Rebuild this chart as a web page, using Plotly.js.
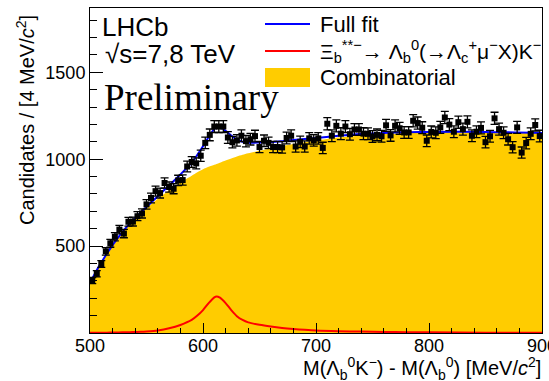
<!DOCTYPE html>
<html>
<head>
<meta charset="utf-8">
<script src="https://cdn.plot.ly/plotly-3.0.1.min.js"></script>
<style>html,body{margin:0;padding:0;background:#fff}#chart{width:549px;height:381px}</style>
</head>
<body>
<div id="chart"></div>
<script>
// Bin centres (4 MeV bins) in M(Lb K) - M(Lb) [MeV/c^2]
const binCenters = [502,506,510,514,518,522,526,530,534,538,
542,546,550,554,558,562,566,570,574,578,
582,586,590,594,598,602,606,610,614,618,
622,626,630,634,638,642,646,650,654,658,
662,666,670,674,678,682,686,690,694,698,
702,706,710,714,718,722,726,730,734,738,
742,746,750,754,758,762,766,770,774,778,
782,786,790,794,798,802,806,810,814,818,
822,826,830,834,838,842,846,850,854,858,
862,866,870,874,878,882,886,890,894,898];
// Candidates per bin
const counts = [302,341,397,470,516,554,595,572,640,641,
672,688,740,777,816,805,863,840,830,878,
880,958,984,976,1020,1094,1140,1188,1188,1188,
1125,1098,1108,1135,1104,1115,1133,1070,1106,1094,
1070,1070,1068,1122,1135,1073,1100,1073,1120,1108,
1120,1065,1204,1135,1192,1147,1188,1144,1171,1171,
1147,1146,1131,1140,1132,1195,1137,1192,1178,1154,
1154,1221,1208,1181,1106,1157,1152,1183,1240,1199,
1158,1213,1173,1215,1135,1158,1180,1098,1132,1235,
1173,1152,1115,1069,1183,1038,1093,1146,1197,1133];
// Fit curves sampled at these masses
const curveMass = [500,505,510,515,520,525,530,535,540,545,550,560,570,580,590,595,600,605,610,612,615,620,625,630,635,640,650,660,670,680,690,700,720,740,760,780,800,850,900];
const combinatorial = [287,349,403,455,503,547,588,623,656,687,716,772,822,866,905,925,942,956,968,973,980,992,1004,1015,1025,1034,1049,1062,1075,1087,1098,1108,1125,1137,1145,1150,1153,1155,1150];
const signal = [1,1,2,2,3,3,4,5,6,7,9,15,27,46,75,100,132,172,205,210,203,172,132,97,75,61,47,37,29,23,18,14,10,8,6,5,4,2,1];
const fullFit = [288,350,405,457,506,550,592,628,662,694,725,787,849,912,980,1025,1074,1128,1173,1183,1183,1164,1136,1112,1100,1095,1096,1099,1104,1110,1116,1122,1135,1145,1151,1155,1157,1157,1151];
const xTicks = [500,600,700,800,900];
const yTicks = [500,1000,1500];

const poissonErr = counts.map(v => Math.sqrt(v));

// layout geometry helpers (pixel -> paper)
const L = 90, R = 7, T = 8, B = 48, W = 549, H = 381;
const pw = W - L - R, ph = H - T - B;
const px = x => (x - L) / pw;
const py = y => (H - B - y) / ph;

const SANS = 'Liberation Sans, Arial, sans-serif';

const traces = [
  {x: curveMass, y: combinatorial, type: 'scatter', mode: 'lines', fill: 'tozeroy',
   fillcolor: '#ffcc00', line: {color: '#ffcc00', width: 0, shape: 'spline', smoothing: 0.8},
   name: 'Combinatorial', hoverinfo: 'skip'},
  {x: curveMass, y: signal, type: 'scatter', mode: 'lines',
   line: {color: '#ff0000', width: 2, shape: 'spline', smoothing: 0.8}, name: 'signal'},
  {x: curveMass, y: fullFit, type: 'scatter', mode: 'lines',
   line: {color: '#0000ff', width: 2, shape: 'spline', smoothing: 0.8}, name: 'Full fit'},
  {x: binCenters, y: counts, type: 'scatter', mode: 'markers',
   marker: {symbol: 'square', size: 6, color: '#000'},
   error_y: {type: 'data', array: poissonErr, visible: true, color: '#000', thickness: 1.3, width: 4},
   name: 'Data'}
];

const layout = {
  width: W, height: H,
  margin: {l: L, r: R, t: T, b: B, pad: 0},
  paper_bgcolor: '#fff', plot_bgcolor: '#fff',
  showlegend: false,
  font: {family: SANS, color: '#000', size: 18},
  xaxis: {range: [500, 900], tickmode: 'array', tickvals: xTicks, ticks: 'inside', ticklen: 10,
    tickwidth: 1, tickcolor: '#000', showline: true, linecolor: '#000', linewidth: 1, mirror: true,
    showgrid: false, zeroline: false, tickfont: {size: 18, family: SANS},
    ticklabeloverflow: 'allow', ticklabelstandoff: -4,
    minor: {tickmode: 'linear', tick0: 500, dtick: 20, ticks: 'inside', ticklen: 5, tickcolor: '#000', showgrid: false}},
  yaxis: {range: [0, 1870], tickmode: 'array', tickvals: yTicks, ticks: 'inside', ticklen: 13,
    tickwidth: 1, tickcolor: '#000', showline: true, linecolor: '#000', linewidth: 1, mirror: true,
    showgrid: false, zeroline: false, tickfont: {size: 18, family: SANS},
    minor: {tickmode: 'linear', tick0: 0, dtick: 100, ticks: 'inside', ticklen: 7, tickcolor: '#000', showgrid: false}},
  shapes: [
    {type: 'line', xref: 'paper', yref: 'paper', x0: px(265), x1: px(310), y0: py(24), y1: py(24), line: {color: '#0000ff', width: 2}},
    {type: 'line', xref: 'paper', yref: 'paper', x0: px(265), x1: px(310), y0: py(51), y1: py(51), line: {color: '#ff0000', width: 2}},
    {type: 'rect', xref: 'paper', yref: 'paper', x0: px(265), x1: px(310), y0: py(68), y1: py(87), fillcolor: '#ffcc00', line: {width: 0}}
  ],
  annotations: [
    {text: 'LHCb', xref: 'paper', yref: 'paper', x: px(100), y: py(27), xanchor: 'left', yanchor: 'middle', showarrow: false, font: {family: SANS, size: 26}},
    {text: '√s=7,8 TeV', xref: 'paper', yref: 'paper', x: px(103), y: py(54), xanchor: 'left', yanchor: 'middle', showarrow: false, font: {family: SANS, size: 26}},
    {text: 'Preliminary', xref: 'paper', yref: 'paper', x: px(102), y: py(97), xanchor: 'left', yanchor: 'middle', showarrow: false, font: {family: 'Liberation Serif, Times New Roman, serif', size: 37}},
    {text: 'Full fit', xref: 'paper', yref: 'paper', x: px(318), y: py(25), xanchor: 'left', yanchor: 'middle', showarrow: false, font: {family: SANS, size: 22}},
    {text: 'Ξ<sub>b</sub><sup>**−</sup>→ Λ<sub>b</sub><sup>0</sup>(→Λ<sub>c</sub><sup>+</sup>μ<sup>−</sup>X)K<sup>−</sup>', xref: 'paper', yref: 'paper', x: px(318), y: py(51), xanchor: 'left', yanchor: 'middle', showarrow: false, font: {family: SANS, size: 21}},
    {text: 'Combinatorial', xref: 'paper', yref: 'paper', x: px(318), y: py(77), xanchor: 'left', yanchor: 'middle', showarrow: false, font: {family: SANS, size: 22}},
    {text: 'Candidates / [4 MeV/<i>c</i><sup>2</sup>]', xref: 'paper', yref: 'paper', x: px(25), y: py(120), xanchor: 'center', yanchor: 'middle', textangle: -90, showarrow: false, font: {family: SANS, size: 20}},
    {text: 'M(Λ<sub>b</sub><sup>0</sup>K<sup>−</sup>) - M(Λ<sub>b</sub><sup>0</sup>) [MeV/<i>c</i><sup>2</sup>]', xref: 'paper', yref: 'paper', x: px(543), y: py(368), xanchor: 'right', yanchor: 'middle', showarrow: false, font: {family: SANS, size: 20}}
  ]
};

Plotly.newPlot('chart', traces, layout, {staticPlot: true, displayModeBar: false});
</script>
</body>
</html>
